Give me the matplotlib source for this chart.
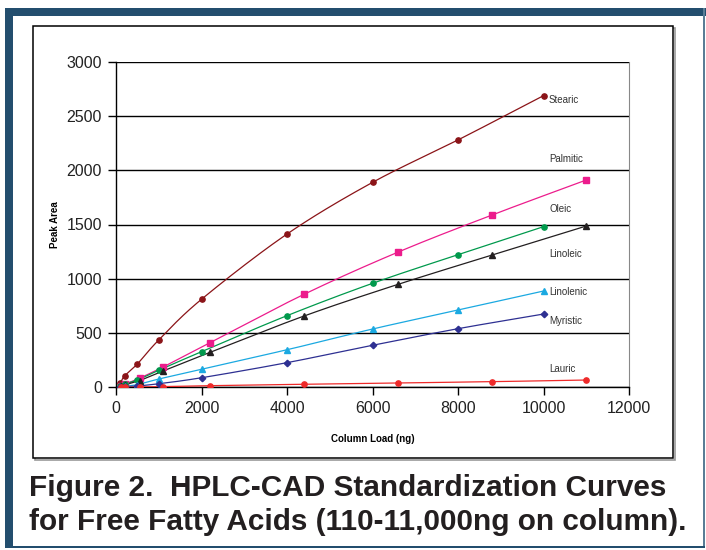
import matplotlib
matplotlib.use("Agg")
import matplotlib.pyplot as plt
from matplotlib.patches import Rectangle
import numpy as np

plt.rcParams['font.family'] = ['Liberation Sans', 'DejaVu Sans']

# data (column load in ng, peak area)
x_a = [100, 200, 500, 1000, 2000, 4000, 6000, 8000, 10000]
x_b = [110, 220, 550, 1100, 2200, 4400, 6600, 8800, 11000]

stearic = [37, 104, 215, 436, 811, 1412, 1888, 2279, 2687]
palmitic = [10, 30, 84, 187, 411, 857, 1246, 1588, 1910]
oleic = [8, 30, 67, 157, 328, 660, 958, 1222, 1480]
linoleic = [8, 24, 62, 150, 322, 657, 949, 1219, 1486]
linolenic = [3, 8, 25, 76, 166, 346, 537, 712, 887]
myristic = [2, 5, 12, 33, 88, 227, 387, 540, 675]
lauric = [0, 1, 3, 6, 15, 28, 40, 52, 67]

names = ["Stearic", "Palmitic", "Oleic", "Linoleic", "Linolenic", "Myristic", "Lauric"]
label_y = [2645, 2100, 1640, 1230, 880, 615, 170]

W, H = 706, 550


def smooth(x, y, n=24):
    # catmull-rom curve through the points, like excel's smoothed lines
    x = np.asarray(x, float)
    y = np.asarray(y, float)
    px = np.concatenate([[2 * x[0] - x[1]], x, [2 * x[-1] - x[-2]]])
    py = np.concatenate([[2 * y[0] - y[1]], y, [2 * y[-1] - y[-2]]])
    t = np.linspace(0, 1, n, endpoint=False)
    outx, outy = [], []
    for i in range(1, len(px) - 2):
        for p, out in ((px, outx), (py, outy)):
            p0, p1, p2, p3 = p[i - 1], p[i], p[i + 1], p[i + 2]
            out.extend(0.5 * (2 * p1 + (-p0 + p2) * t + (2 * p0 - 5 * p1 + 4 * p2 - p3) * t ** 2
                              + (-p0 + 3 * p1 - 3 * p2 + p3) * t ** 3))
    outx.append(x[-1])
    outy.append(y[-1])
    return outx, outy


fig = plt.figure(figsize=(W / 100, H / 100), dpi=100)

def px_rect(x0, y0, x1, y1, **kw):
    r = Rectangle((x0 / W, 1 - y1 / H), (x1 - x0) / W, (y1 - y0) / H,
                  transform=fig.transFigure, zorder=-1, **kw)
    fig.add_artist(r)

blue = '#234e6e'
# page frame
px_rect(5, 8, 706, 16, facecolor=blue, edgecolor='none')
px_rect(5, 8, 13, 548, facecolor=blue, edgecolor='none')
px_rect(703, 8, 705, 548, facecolor='#5a7d96', edgecolor='none')
px_rect(5, 546, 705, 548, facecolor=blue, edgecolor='none')
# chart box with small shadow
px_rect(35, 28, 675, 460, facecolor='none', edgecolor='#999999', lw=1.2)
px_rect(33, 26, 673, 458, facecolor='white', edgecolor='black', lw=1.1)

ax = fig.add_axes([116 / W, 1 - 387.3 / H, (629 - 116) / W, (387.3 - 61.7) / H])
ax.set_facecolor('none')

series = [
    (x_a, stearic, '#8b1418', 'o', 3.8),
    (x_b, palmitic, '#ec1c8c', 's', 4.8),
    (x_a, oleic, '#00994c', 'o', 3.8),
    (x_b, linoleic, '#231f20', '^', 4.3),
    (x_a, linolenic, '#1ba9e1', '^', 4.3),
    (x_a, myristic, '#2e3092', 'D', 3.3),
    (x_b, lauric, '#ee2a2a', 'o', 3.8),
]

for xs, ys, c, m, ms in series:
    sx, sy = smooth(xs, ys)
    ax.plot(sx, sy, color=c, lw=0.9, zorder=3)
    ax.plot(xs, ys, linestyle='none', marker=m, color=c, markersize=ms, zorder=4)

for name, ly in zip(names, label_y):
    ax.text(10130, ly, name, fontsize=7, color='#333333', va='center', ha='left')

ax.set_xlim(0, 12000)
ax.set_ylim(0, 3000)
ax.set_xticks(np.arange(0, 12001, 2000))
ax.set_yticks(np.arange(0, 3001, 500))
ax.yaxis.grid(True, color='black', lw=1.0)
ax.set_axisbelow(True)
for s in ['top']:
    ax.spines[s].set_visible(False)
ax.spines['right'].set_color('#888888')
ax.spines['left'].set_linewidth(1.0)
ax.spines['bottom'].set_linewidth(1.0)
ax.tick_params(axis='both', direction='out', length=6, width=1.0, labelsize=11.5,
               labelcolor='#222222', pad=4)

ax.set_ylabel("Peak Area", fontsize=7, fontweight='bold', labelpad=5)
ax.set_xlabel("Column Load (ng)", fontsize=7, fontweight='bold', labelpad=12.5)

fig.text(29 / W, 1 - 496 / H, "Figure 2.  HPLC-CAD Standardization Curves",
         fontsize=21.4, fontweight='bold', color='#231f20', ha='left', va='baseline')
fig.text(29 / W, 1 - 530 / H, "for Free Fatty Acids (110-11,000ng on column).",
         fontsize=21.4, fontweight='bold', color='#231f20', ha='left', va='baseline')

fig.savefig("out.png", dpi=100)
